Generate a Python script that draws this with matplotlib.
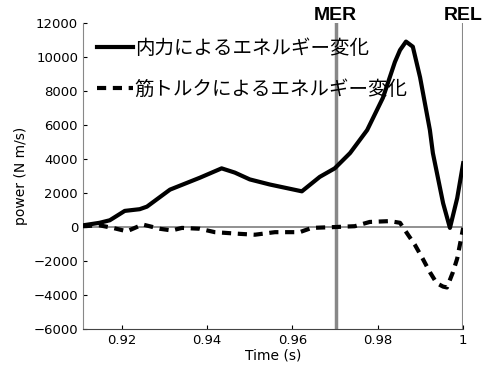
import matplotlib.pyplot as plt
import numpy as np

plt.rcParams['font.family'] = ['DejaVu Sans', 'Noto Sans CJK JP']

# 内力によるエネルギー変化
t_int = [0.9109, 0.9148, 0.9172, 0.9207, 0.9242, 0.9259, 0.9313, 0.9343, 0.9383,
         0.9434, 0.9465, 0.9500, 0.9547, 0.9622, 0.9664, 0.9699, 0.9735, 0.9775,
         0.9812, 0.9840, 0.9852, 0.9866, 0.9882, 0.9899, 0.9922, 0.9929, 0.9953,
         0.9969, 0.9986, 1.0000]
p_int = [100, 250, 400, 950, 1050, 1200, 2200, 2500, 2900,
         3450, 3200, 2800, 2500, 2100, 2950, 3450, 4350, 5700,
         7600, 9700, 10400, 10900, 10600, 8800, 5700, 4350, 1400,
         -50, 1700, 3750]

# 筋トルクによるエネルギー変化
t_mus = [0.9109, 0.9148, 0.9179, 0.9212, 0.9249, 0.9289, 0.9317, 0.9341, 0.9383,
         0.9418, 0.9477, 0.9512, 0.9559, 0.9617, 0.9645, 0.9699, 0.9746, 0.9781,
         0.9828, 0.9852, 0.9868, 0.9887, 0.9905, 0.9922, 0.9938, 0.9953, 0.9962,
         0.9976, 0.9986, 0.9993, 1.0000]
p_mus = [50, 100, -50, -250, 150, -100, -200, -50, -100,
         -300, -400, -450, -300, -300, -50, 0, 50, 300,
         350, 250, -350, -1050, -1850, -2650, -3300, -3500, -3550,
         -2650, -1850, -950, -50]

events = ['MER', 'REL']
event_t = [0.9701, 1.0]

fig = plt.figure(figsize=(4.85, 3.69), dpi=100)
ax = fig.add_axes([0.171, 0.108, 0.784, 0.83])

ax.axhline(0, color='#888888', lw=1.3, zorder=1)
ax.plot(t_int, p_int, color='black', lw=3, solid_joinstyle='round',
        label='内力によるエネルギー変化', zorder=3)
ax.plot(t_mus, p_mus, color='black', lw=3, dashes=(2.2, 1.6),
        label='筋トルクによるエネルギー変化', zorder=3)

for name, t, w in zip(events, event_t, [2.5, 1.5]):
    ax.axvline(t, color='#888888', lw=w, zorder=2)
    ax.text(t, 12450, name, ha='center', va='center', fontsize=14,
            fontweight='bold', family='Liberation Sans')

ax.set_xlim(0.9109, 1.0)
ax.set_ylim(-6000, 12000)
ax.set_xticks([0.92, 0.94, 0.96, 0.98, 1.0])
ax.set_xticklabels(['0.92', '0.94', '0.96', '0.98', '1'])
ax.set_yticks(np.arange(-6000, 12001, 2000))
ax.tick_params(direction='in', length=3, labelsize=9.5, width=0.8)
ax.spines['top'].set_visible(False)
ax.spines['right'].set_visible(False)
ax.spines['left'].set_color('#888888')
ax.spines['bottom'].set_color('#444444')
ax.set_xlabel('Time (s)', fontsize=10, labelpad=1)
ax.set_ylabel('power (N m/s)', fontsize=10, labelpad=4)

leg = ax.legend(loc='upper left', bbox_to_anchor=(0.006, 0.99), frameon=False,
                prop={'family': ['Noto Sans CJK JP'], 'size': 14},
                handlelength=1.85, handletextpad=0.1, labelspacing=1.06,
                borderaxespad=0.2)

fig.savefig('out.png', dpi=100)
